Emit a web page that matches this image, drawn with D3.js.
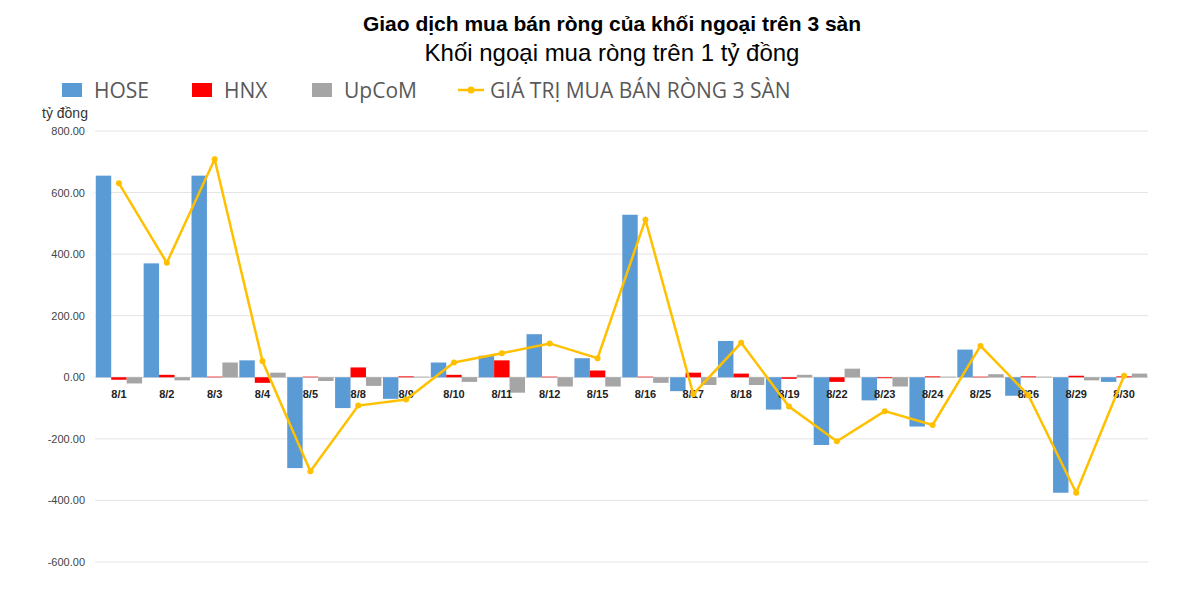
<!DOCTYPE html>
<html><head><meta charset="utf-8">
<script src="https://cdn.jsdelivr.net/npm/d3@7"></script>
<style>body{margin:0;background:#fff;font-family:"Liberation Sans",Arial,sans-serif}</style>
</head><body><svg id="c" width="1200" height="595"></svg>
<script>
var dates=["8/1","8/2","8/3","8/4","8/5","8/8","8/9","8/10","8/11","8/12","8/15","8/16","8/17","8/18","8/19","8/22","8/23","8/24","8/25","8/26","8/29","8/30"]
var hose=[655,370,655,55,-295,-100,-70,48,70,140,62,528,-45,118,-105,-220,-75,-160,90,-60,-375,-15]
var hnx=[-8,8,2,-18,2,32,3,8,55,2,22,2,15,12,-5,-15,-3,3,2,3,5,3]
var upcom=[-20,-10,48,15,-12,-28,2,-15,-50,-30,-30,-18,-25,-25,8,28,-30,2,10,2,-10,12]
var total=[630,372,708,52,-305,-92,-72,48,78,110,62,512,-55,112,-95,-208,-110,-155,102,-58,-375,5]
var yTicks=[800,600,400,200,0,-200,-400,-600]

var svg=d3.select("#c")
var x=d3.scaleBand().domain(dates).range([95,1148])
var y=d3.scaleLinear().domain([-600,800]).range([562,131])
var sub=d3.scaleBand().domain([0,1,2]).range([0,x.bandwidth()]).paddingInner(0).paddingOuter(0.05)

svg.selectAll(".g").data(yTicks).enter().append("line")
  .attr("x1",95).attr("x2",1148).attr("y1",d=>y(d)).attr("y2",d=>y(d))
  .attr("stroke",d=>d==0?"#d0d0d0":"#e4e4e4")
svg.selectAll(".yl").data(yTicks).enter().append("text")
  .attr("x",85).attr("y",d=>y(d)+4).attr("text-anchor","end")
  .attr("font-size",11).attr("fill","#444").text(d=>d.toFixed(2))
svg.append("text").attr("x",42).attr("y",118).attr("font-size",14).attr("fill","#333").text("tỷ đồng")

var series=[[hose,"#5b9bd5"],[hnx,"#ff0000"],[upcom,"#a5a5a5"]]
series.forEach(function(s,k){
  svg.append("g").selectAll("rect").data(s[0]).enter().append("rect")
    .attr("x",(d,i)=>x(dates[i])+sub(k)).attr("width",sub.bandwidth())
    .attr("y",d=>y(Math.max(0,d))).attr("height",d=>Math.abs(y(d)-y(0)))
    .attr("fill",s[1])
})
svg.selectAll(".xl").data(dates).enter().append("text")
  .attr("x",d=>x(d)+x.bandwidth()/2).attr("y",398).attr("text-anchor","middle")
  .attr("font-size",11).attr("font-weight","bold").attr("fill","#222").text(d=>d)

var line=d3.line().x((d,i)=>x(dates[i])+x.bandwidth()/2).y(d=>y(d))
svg.append("path").datum(total).attr("d",line).attr("fill","none").attr("stroke","#ffc000").attr("stroke-width",2.5)
svg.selectAll(".pt").data(total).enter().append("circle")
  .attr("cx",(d,i)=>x(dates[i])+x.bandwidth()/2).attr("cy",d=>y(d)).attr("r",3).attr("fill","#ffc000")

svg.append("text").attr("x",612).attr("y",31).attr("text-anchor","middle").attr("font-size",21).attr("font-weight","bold").text("Giao dịch mua bán ròng của khối ngoại trên 3 sàn")
svg.append("text").attr("x",612).attr("y",61).attr("text-anchor","middle").attr("font-size",24).text("Khối ngoại mua ròng trên 1 tỷ đồng")

var leg=[["HOSE","#5b9bd5",62],["HNX","#ff0000",192],["UpCoM","#a5a5a5",312]]
leg.forEach(function(l){
  svg.append("rect").attr("x",l[2]).attr("y",83).attr("width",20).attr("height",14).attr("fill",l[1])
  svg.append("text").attr("x",l[2]+32).attr("y",98).attr("font-family","'Open Sans'").attr("font-size",21).attr("fill","#595959").text(l[0])
})
svg.append("line").attr("x1",458).attr("x2",484).attr("y1",90).attr("y2",90).attr("stroke","#ffc000").attr("stroke-width",2.5)
svg.append("circle").attr("cx",471).attr("cy",90).attr("r",3.5).attr("fill","#ffc000")
svg.append("text").attr("x",490).attr("y",98).attr("font-family","'Open Sans'").attr("font-size",21).attr("fill","#595959").text("GIÁ TRỊ MUA BÁN RÒNG 3 SÀN")
</script></body></html>
